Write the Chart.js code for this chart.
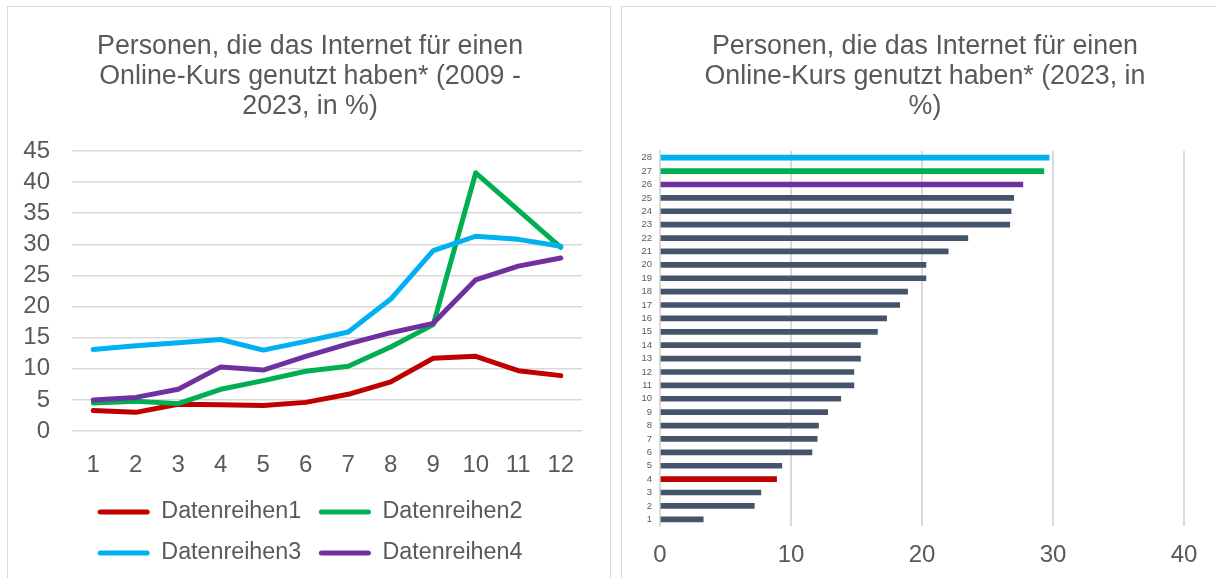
<!DOCTYPE html>
<html>
<head>
<meta charset="utf-8">
<script src="https://cdn.jsdelivr.net/npm/chart.js@4"></script>
<style>
  body { margin: 0; background: #fff; width: 1216px; height: 578px; overflow: hidden; position: relative; }
  .panel { position: absolute; border: 1px solid #d9d9d9; box-sizing: border-box; }
  .box { position: absolute; }
</style>
</head>
<body>
<div class="panel" style="left:7px;top:6px;width:604px;height:590px;"></div>
<div class="panel" style="left:621px;top:6px;width:610px;height:590px;"></div>
<div class="box" style="left:8px;top:7px;width:602px;height:571px;"><canvas id="lineChart"></canvas></div>
<div class="box" style="left:622px;top:7px;width:594px;height:571px;"><canvas id="barChart"></canvas></div>
<script>
const years = ["1", "2", "3", "4", "5", "6", "7", "8", "9", "10", "11", "12"];
const reihe1 = [3.3, 3.0, 4.3, 4.2, 4.1, 4.6, 5.9, 7.9, 11.7, 12.0, 9.7, 8.9];
const reihe2 = [4.5, 4.8, 4.4, 6.7, 8.1, 9.6, 10.4, 13.5, 17.1, 41.5, 35.5, 29.5];
const reihe3 = [13.1, 13.7, 14.2, 14.7, 13.0, 14.4, 15.9, 21.2, 29.0, 31.3, 30.8, 29.7];
const reihe4 = [5.0, 5.4, 6.7, 10.3, 9.8, 12.0, 14.0, 15.8, 17.3, 24.3, 26.5, 27.8];
const lineYTicks = [0, 5, 10, 15, 20, 25, 30, 35, 40, 45];

const countries = ["1", "2", "3", "4", "5", "6", "7", "8", "9", "10", "11", "12", "13", "14",
  "15", "16", "17", "18", "19", "20", "21", "22", "23", "24", "25", "26", "27", "28"];
const values2023 = [3.3, 7.2, 7.7, 8.9, 9.3, 11.6, 12.0, 12.1, 12.8, 13.8, 14.8, 14.8, 15.3, 15.3,
  16.6, 17.3, 18.3, 18.9, 20.3, 20.3, 22.0, 23.5, 26.7, 26.8, 27.0, 27.7, 29.3, 29.7];
const barXTicks = [0, 10, 20, 30, 40];

const txt = "#595959";
const font = "'Liberation Sans', Arial, sans-serif";
const seriesColors = ["#c00000", "#00b050", "#00b0f0", "#7030a0"];

// Balkenfarben: hervorgehobene Länder
const barColors = values2023.map((v, i) => {
  if (countries[i] === "28") return "#00b0f0";
  if (countries[i] === "27") return "#00b050";
  if (countries[i] === "26") return "#7030a0";
  if (countries[i] === "4") return "#c00000";
  return "#44546a";
});

const titleOpts = (lines) => ({
  display: true,
  text: lines,
  color: txt,
  font: { family: font, size: 26.8, weight: "normal", lineHeight: 30 / 26.8 },
  padding: { top: 25, bottom: 29 },
});

// leere Achse rechts, damit der Titel mittig über dem Rahmen steht
const spacerAxis = (w) => ({
  type: "linear",
  position: "right",
  display: true,
  ticks: { display: false },
  grid: { display: false, drawTicks: false },
  border: { display: false },
  afterFit: (axis) => { axis.width = w; },
});

// Linien-Diagramm
const series = [reihe1, reihe2, reihe3, reihe4];
new Chart(document.getElementById("lineChart"), {
  type: "line",
  data: {
    labels: years,
    datasets: series.map((d, i) => ({
      label: "Datenreihen" + (i + 1),
      data: d,
      borderColor: seriesColors[i],
      backgroundColor: seriesColors[i],
      borderWidth: 5,
      pointRadius: 0,
      tension: 0,
      borderJoinStyle: "round",
      borderCapStyle: "round",
      order: 4 - i,
    })),
  },
  options: {
    responsive: true,
    maintainAspectRatio: false,
    animation: false,
    layout: { padding: { left: 15.3, right: 13.2, bottom: 3.3 } },
    plugins: {
      title: titleOpts(["Personen, die das Internet für einen", "Online-Kurs genutzt haben* (2009 -", "2023, in %)"]),
      tooltip: { enabled: false },
      legend: {
        position: "bottom",
        labels: {
          color: txt,
          font: { family: font, size: 23.3 },
          boxWidth: 52,
          boxHeight: 5,
          padding: 17.7,
          useBorderRadius: true,
          borderRadius: 2.5,
          generateLabels: (chart) =>
            Chart.defaults.plugins.legend.labels
              .generateLabels(chart)
              .sort((a, b) => a.datasetIndex - b.datasetIndex)
              .map((l) => ({ ...l, lineWidth: 0, fillStyle: seriesColors[l.datasetIndex] })),
        },
      },
    },
    scales: {
      y: {
        min: 0,
        max: 45,
        afterBuildTicks: (axis) => { axis.ticks = lineYTicks.map((v) => ({ value: v })); },
        afterFit: (axis) => { axis.width = 48.7; },
        ticks: { color: txt, font: { family: font, size: 24 }, padding: 22, autoSkip: false },
        grid: { color: "#d9d9d9", lineWidth: 1.5, drawTicks: false },
        border: { display: false },
      },
      yRight: spacerAxis(14.8),
      x: {
        offset: true,
        afterFit: (axis) => { axis.height = 51.7; },
        ticks: { color: txt, font: { family: font, size: 24 }, padding: 20 },
        grid: { display: false, drawTicks: false, offset: true },
        border: { display: false },
      },
    },
  },
});

// Balken-Diagramm
new Chart(document.getElementById("barChart"), {
  type: "bar",
  data: {
    labels: countries,
    datasets: [
      {
        data: values2023,
        backgroundColor: barColors,
        barThickness: 5,
      },
    ],
  },
  options: {
    indexAxis: "y",
    responsive: true,
    maintainAspectRatio: false,
    animation: false,
    layout: { padding: { left: 19, right: 7, bottom: 0 } },
    plugins: {
      title: titleOpts(["Personen, die das Internet für einen", "Online-Kurs genutzt haben* (2023, in", "%)"]),
      tooltip: { enabled: false },
      legend: { display: false },
    },
    scales: {
      x: {
        min: 0,
        max: 40,
        afterBuildTicks: (axis) => { axis.ticks = barXTicks.map((v) => ({ value: v })); },
        afterFit: (axis) => { axis.height = 52; },
        ticks: { color: txt, font: { family: font, size: 24 }, padding: 15 },
        grid: { color: "#d9d9d9", lineWidth: 2, drawTicks: false },
        border: { display: false },
      },
      y: {
        reverse: true,
        afterFit: (axis) => { axis.width = 19; },
        ticks: { color: txt, font: { family: font, size: 9.5 }, padding: 8, autoSkip: false },
        grid: { display: false, drawTicks: false },
        border: { color: "#d9d9d9", width: 2 },
      },
      yRight: spacerAxis(25),
    },
  },
});
</script>
</body>
</html>
